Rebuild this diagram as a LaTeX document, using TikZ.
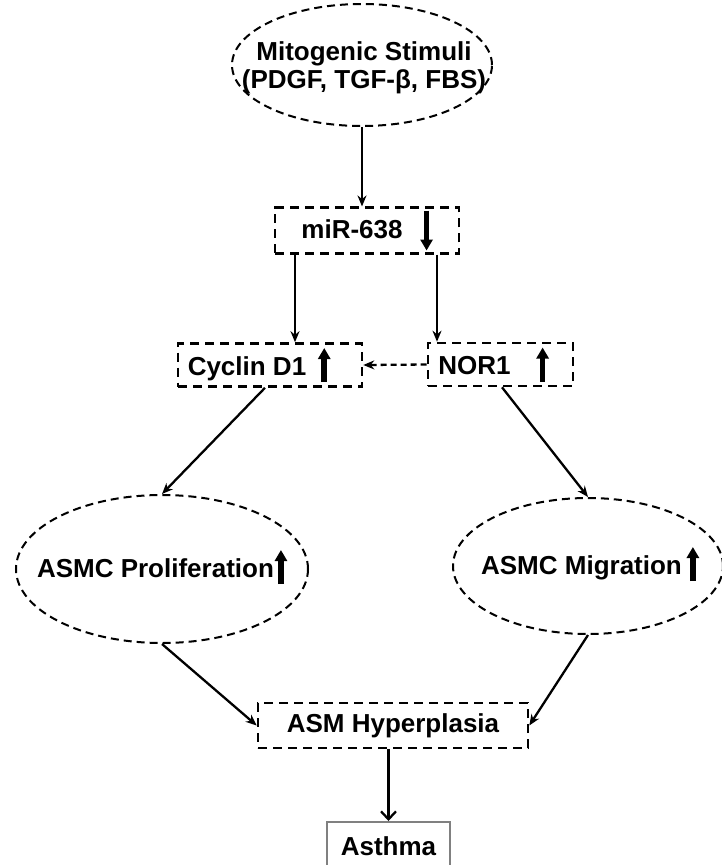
\documentclass[tikz,border=0pt]{standalone}
\usepackage{fontspec}
\setmainfont{Liberation Sans}
\usepackage{tikz}
\usetikzlibrary{positioning, arrows.meta, shapes.geometric}

% thick arrows inside the labels
\newcommand{\uparr}{\tikz[baseline=0pt]\draw[solid, line width=5.5pt, -{Triangle[length=11pt, width=12pt]}] (0pt,-7pt) -- (0pt,27pt);}
\newcommand{\downarr}{\tikz[baseline=0pt]\draw[solid, line width=5.5pt, -{Triangle[length=11pt, width=12pt]}] (0pt,28pt) -- (0pt,-12pt);}

\begin{document}
\begin{tikzpicture}[x=1pt, y=-1pt,
    font=\fontsize{26}{28}\selectfont\bfseries,
    dashbox/.style={draw, rectangle, line width=2.6pt, dash pattern=on 9pt off 6pt, inner sep=0pt},
    dashoval/.style={draw, ellipse, line width=2pt, dash pattern=on 8pt off 5pt, inner sep=0pt},
    link/.style={line width=2.3pt, -{Stealth[length=11pt, width=9pt]}}]
  \useasboundingbox (0,0) rectangle (721,865);

  % ovals are drawn empty, their texts are set on top
  \node[dashoval, minimum width=260, minimum height=122] (stim) at (362,65) {};
  \node[align=center] (stimtext) at (364,68) {Mitogenic Stimuli\\(PDGF, TGF-β, FBS)};
  \node[dashbox, minimum width=184, minimum height=45] (mir) at (367,230.5)
    {miR-638\hspace{18pt}\downarr};
  \node[dashbox, minimum width=184, minimum height=43] (cyc) at (270,365)
    {Cyclin D1\hspace{12pt}\uparr\kern22pt};
  \node[dashbox, minimum width=145, minimum height=43] (nor) at (500.5,364.5)
    {NOR1\hspace{26pt}\uparr\kern14pt};
  \node[dashoval, minimum width=292, minimum height=148] (prolif) at (162,569) {};
  \node (prolibtext) at (162,567) {ASMC Proliferation\hspace{1pt}\uparr};
  \node[dashoval, minimum width=270, minimum height=136] (migr) at (588,566) {};
  \node (migrtext) at (590,564) {ASMC Migration\hspace{5pt}\uparr};
  \node[dashbox, minimum width=270, minimum height=45] (hyper) at (393,725.5)
    {ASM Hyperplasia};
  \node[draw=gray, line width=1.8pt, rectangle, minimum width=123, minimum height=60, anchor=north]
    (asthma) at (388.5,821) {\raisebox{11pt}{Asthma}};

  \draw[link] (stim.south) -- (stim.south |- mir.north);
  \draw[link] ([xshift=25pt]cyc.north |- mir.south) -- ([xshift=25pt]cyc.north);
  \draw[link] ([xshift=-63.5pt]nor.north |- mir.south) -- ([xshift=-63.5pt]nor.north);
  \draw[link, dash pattern=on 6pt off 4pt] (nor.west) -- (cyc.east);
  \draw[link] ([xshift=-5pt]cyc.south) -- (prolif.north);
  \draw[link] ([xshift=1.5pt]nor.south) -- (migr.north);
  \draw[link] (prolif.south) -- (hyper.west);
  \draw[link] (migr.south) -- (hyper.east);
  \draw[line width=2.3pt, -{Straight Barb[length=8pt, width=15pt]}] (hyper.south -| asthma.north) -- (asthma.north);
\end{tikzpicture}
\end{document}
